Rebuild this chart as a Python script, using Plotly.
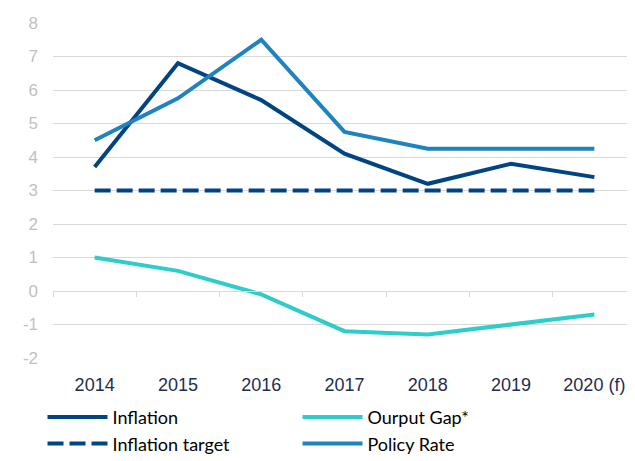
import plotly.graph_objects as go

years = ["2014", "2015", "2016", "2017", "2018", "2019", "2020 (f)"]
inflation = [3.7, 6.8, 5.7, 4.1, 3.2, 3.8, 3.4]
output_gap = [1.0, 0.6, -0.1, -1.2, -1.3, -1.0, -0.7]
inflation_target = [3, 3, 3, 3, 3, 3, 3]
policy_rate = [4.5, 5.75, 7.5, 4.75, 4.25, 4.25, 4.25]
y_ticks = [-2, -1, 0, 1, 2, 3, 4, 5, 6, 7, 8]
y_tick_labels = ["-2", "-1", "0", "1", "2", "3", "4", "5", "6", "7", "8"]

NAVY = "#004483"
TEAL = "#2ECDCB"
BLUE = "#1F83BF"

fig = go.Figure()
fig.add_trace(go.Scatter(x=years, y=inflation, name="Inflation", mode="lines",
                         line=dict(color=NAVY, width=4)))
fig.add_trace(go.Scatter(x=years, y=output_gap, name="Ourput Gap*", mode="lines",
                         line=dict(color=TEAL, width=4)))
fig.add_trace(go.Scatter(x=years, y=inflation_target, name="Inflation target", mode="lines",
                         line=dict(color=NAVY, width=4, dash="16px,6px")))
fig.add_trace(go.Scatter(x=years, y=policy_rate, name="Policy Rate", mode="lines",
                         line=dict(color=BLUE, width=4)))
# invisible trace for the zero-positioned category axis with boundary ticks
fig.add_trace(go.Scatter(x=years, y=[None] * len(years), xaxis="x2", mode="lines",
                         showlegend=False, hoverinfo="skip"))

fig.update_layout(
    width=635, height=461,
    margin=dict(l=45, r=7, t=15, b=99),
    plot_bgcolor="white", paper_bgcolor="white",
    font=dict(family="Liberation Sans"),
    xaxis=dict(type="category", range=[-0.5, 6.5], showgrid=False, showline=False,
               zeroline=False, ticks="",
               tickfont=dict(family="Liberation Sans", size=18, color="#1F2D4E"),
               ticklabelstandoff=14),
    xaxis2=dict(type="category", overlaying="x", anchor="free", position=0.2,
                range=[-0.5, 6.5], showgrid=False, showline=True, linecolor="#D9D9D9",
                linewidth=1, ticks="outside", tickson="boundaries", ticklen=5,
                tickcolor="#D9D9D9", showticklabels=False, side="bottom"),
    yaxis=dict(range=[-2, 8], tickvals=y_ticks, ticktext=y_tick_labels, showgrid=True,
               gridcolor="#D9D9D9", gridwidth=1, zeroline=False, showline=False,
               tickfont=dict(family="Liberation Sans", size=17, color="#BFBFBF"),
               ticklabelstandoff=14),
    legend=dict(orientation="h", x=-0.018, xanchor="left", y=-0.122, yanchor="top",
                entrywidth=180, itemwidth=60, tracegroupgap=0,
                font=dict(family="Lato, sans-serif", size=18, color="#000000")),
    showlegend=True,
)

fig.write_html("out.html")
